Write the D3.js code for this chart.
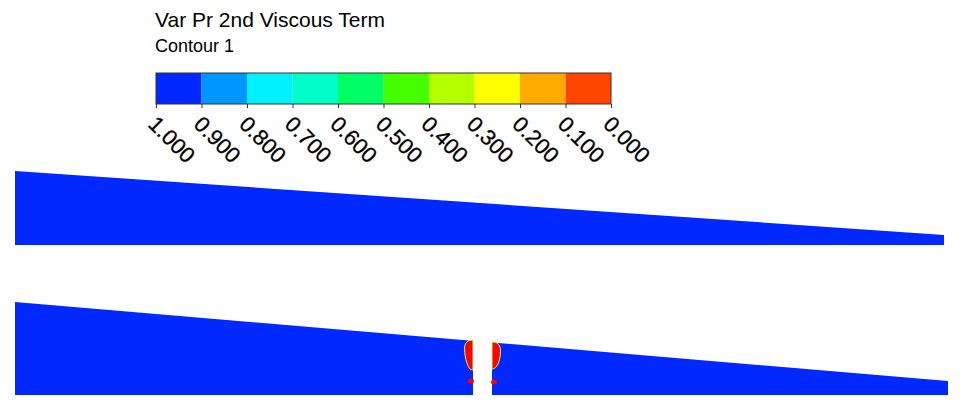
<!DOCTYPE html>
<html><head><meta charset="utf-8">
<script src="https://cdn.jsdelivr.net/npm/d3@7"></script>
<style>body{margin:0;background:#fff}</style></head>
<body><div id="stage"></div>
<script>
const legendValues = ["1.000","0.900","0.800","0.700","0.600","0.500","0.400","0.300","0.200","0.100","0.000"];
const legendColors = ["#0028ff","#0096ff","#00f0ff","#00ffc8","#00ff64","#46ff00","#b4ff00","#ffff00","#ffaa00","#ff4600"];
// domain outlines in model units (x along channel, y height)
const upperDomain = [[0, 0], [0, 74], [929, 10], [929, 0]];
const lowerDomain = [[0, 0], [0, 93], [933, 14], [933, 0]];
const gap = [458, 477];
const hotLeft = [[458, 55], [453, 54], [450, 50], [450, 40], [452, 32], [455, 26], [458, 25]];
const hotRight = [[477, 53], [482, 52], [485, 48], [485, 38], [483, 31], [480, 27], [477, 26]];
const hotSpots = [[456, 14], [479, 13]];

const W = 964, H = 416;
const svg = d3.select("#stage").append("svg").attr("width", W).attr("height", H)
  .style("font-family", "Arial, 'Liberation Sans', sans-serif");

svg.append("text").attr("x", 155).attr("y", 27).attr("font-size", 21).text("Var Pr 2nd Viscous Term");
svg.append("text").attr("x", 155).attr("y", 52).attr("font-size", 18).text("Contour 1");

const lx = d3.scalePoint().domain(legendValues).range([156, 611]);
const step = lx.step();
svg.selectAll("rect.leg").data(legendColors).join("rect")
  .attr("x", (d, i) => lx(legendValues[i])).attr("y", 73)
  .attr("width", step).attr("height", 31).attr("fill", d => d);
svg.append("rect").attr("x", 156).attr("y", 73).attr("width", 455).attr("height", 31)
  .attr("fill", "none").attr("stroke", "#333").attr("stroke-width", 1);
const ax = svg.append("g").attr("transform", "translate(0,104)")
  .call(d3.axisBottom(lx).tickSize(4).tickPadding(6));
ax.select(".domain").remove();
ax.selectAll("line").attr("stroke", "#333");
ax.selectAll("text").attr("font-size", 22).attr("fill", "#000")
  .attr("stroke", "#000").attr("stroke-width", 0.3)
  .attr("text-anchor", "start").attr("dy", "0.35em")
  .attr("transform", "translate(3,9) rotate(45)");

const x = d3.scaleLinear().domain([0, 933]).range([15, 948]);
const yU = d3.scaleLinear().domain([0, 74]).range([245, 171]);
const yL = d3.scaleLinear().domain([0, 93]).range([395, 302]);
const blue = "#0028ff";
const line = ys => d3.line().x(d => x(d[0])).y(d => ys(d[1]));
const curve = ys => d3.line().x(d => x(d[0])).y(d => ys(d[1])).curve(d3.curveCatmullRom);

svg.append("path").attr("d", line(yU)(upperDomain) + "Z").attr("fill", blue);
svg.append("path").attr("d", line(yL)(lowerDomain) + "Z").attr("fill", blue);
[hotLeft, hotRight].forEach(p => {
  svg.append("path").attr("d", curve(yL)(p) + "Z").attr("fill", "#ff0000")
    .attr("stroke", "#c8ff40").attr("stroke-width", 1);
});
svg.append("rect").attr("x", x(gap[0])).attr("y", 330).attr("width", x(gap[1]) - x(gap[0]))
  .attr("height", yL(0) - 330 + 1).attr("fill", "#fff");
svg.selectAll("ellipse.hs").data(hotSpots).join("ellipse")
  .attr("cx", d => x(d[0])).attr("cy", d => yL(d[1])).attr("rx", 3).attr("ry", 2.5).attr("fill", "#ff0000");
</script></body></html>
